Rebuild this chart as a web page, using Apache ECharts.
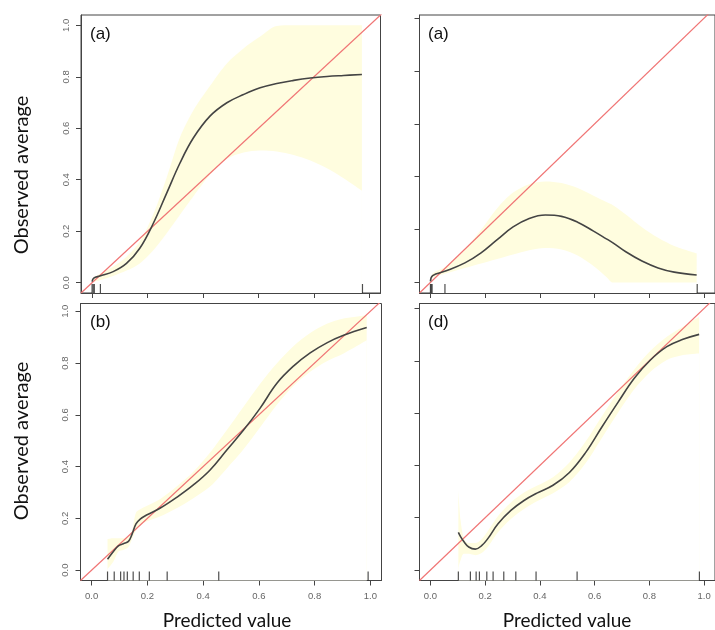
<!DOCTYPE html>
<html>
<head>
<meta charset="utf-8">
<script src="https://cdn.jsdelivr.net/npm/echarts@6/dist/echarts.min.js"></script>
<style>
  html, body { margin: 0; padding: 0; background: #fff; }
  #chart { width: 715px; height: 630px; }
</style>
</head>
<body>
<div id="chart"></div>
<script>
// tick labels
const tickValues = [0, 0.2, 0.4, 0.6, 0.8, 1.0]
const panelLabels = ['(a)', '(a)', '(b)', '(d)']

// panel 1 (top left)
const xA = [0.0, 0.006, 0.028, 0.076, 0.124, 0.172, 0.22, 0.269, 0.317, 0.365, 0.425, 0.486, 0.546, 0.606, 0.666, 0.727, 0.787, 0.847, 0.907, 0.973]
const fitA = [0.004, 0.018, 0.026, 0.043, 0.075, 0.134, 0.229, 0.348, 0.465, 0.562, 0.647, 0.699, 0.731, 0.757, 0.774, 0.786, 0.795, 0.801, 0.805, 0.809]
const lowA = [0.0, 0.004, 0.010, 0.026, 0.047, 0.075, 0.125, 0.192, 0.264, 0.335, 0.419, 0.481, 0.506, 0.514, 0.51, 0.496, 0.475, 0.445, 0.406, 0.358]
const upA = [0.008, 0.021, 0.034, 0.062, 0.101, 0.16, 0.264, 0.409, 0.565, 0.669, 0.764, 0.852, 0.91, 0.956, 0.997, 1.0, 1.0, 1.0, 1.0, 1.0]
const rugA = [0.0, 0.004, 0.008, 0.03, 0.975]

// panel 2 (top right)
const xB = [0.0, 0.008, 0.055, 0.126, 0.185, 0.244, 0.302, 0.361, 0.42, 0.479, 0.538, 0.596, 0.643, 0.667, 0.714, 0.773, 0.832, 0.891, 0.973]
const fitB = [0.004, 0.026, 0.043, 0.074, 0.112, 0.162, 0.21, 0.242, 0.255, 0.25, 0.228, 0.194, 0.165, 0.15, 0.116, 0.081, 0.055, 0.039, 0.028]
const lowB = [0.0, 0.018, 0.034, 0.055, 0.072, 0.089, 0.106, 0.122, 0.13, 0.125, 0.102, 0.062, 0.021, 0.0, 0.0, 0.0, 0.0, 0.0, 0.0]
const upB = [0.008, 0.034, 0.059, 0.124, 0.199, 0.281, 0.34, 0.372, 0.382, 0.376, 0.357, 0.328, 0.304, 0.292, 0.257, 0.209, 0.169, 0.138, 0.11]
const rugB = [0.0, 0.003, 0.006, 0.053, 0.975]

// panel 3 (bottom left)
const xC = [0.057, 0.078, 0.096, 0.114, 0.132, 0.144, 0.159, 0.174, 0.197, 0.245, 0.305, 0.365, 0.425, 0.485, 0.545, 0.604, 0.664, 0.724, 0.784, 0.844, 0.904, 0.987]
const fitC = [0.042, 0.072, 0.094, 0.102, 0.111, 0.136, 0.179, 0.197, 0.213, 0.239, 0.281, 0.329, 0.387, 0.464, 0.541, 0.625, 0.721, 0.788, 0.839, 0.878, 0.907, 0.937]
const lowC = [0.004, 0.033, 0.072, 0.078, 0.089, 0.117, 0.153, 0.175, 0.188, 0.207, 0.239, 0.278, 0.323, 0.393, 0.467, 0.551, 0.638, 0.711, 0.766, 0.807, 0.837, 0.888]
const upC = [0.12, 0.123, 0.123, 0.123, 0.13, 0.149, 0.222, 0.235, 0.248, 0.274, 0.323, 0.38, 0.454, 0.541, 0.631, 0.719, 0.798, 0.865, 0.916, 0.952, 0.972, 0.985]
const rugC = [0.057, 0.081, 0.104, 0.116, 0.128, 0.149, 0.171, 0.207, 0.271, 0.456, 0.992]

// panel 4 (bottom right)
const xD = [0.102, 0.110, 0.122, 0.14, 0.164, 0.187, 0.211, 0.247, 0.294, 0.342, 0.389, 0.448, 0.508, 0.567, 0.626, 0.686, 0.745, 0.804, 0.864, 0.923, 0.982]
const fitD = [0.144, 0.128, 0.109, 0.088, 0.08, 0.093, 0.122, 0.177, 0.228, 0.266, 0.294, 0.324, 0.373, 0.449, 0.546, 0.642, 0.733, 0.803, 0.854, 0.882, 0.901]
const lowD = [0.008, 0.037, 0.062, 0.062, 0.057, 0.065, 0.09, 0.144, 0.195, 0.233, 0.263, 0.294, 0.337, 0.408, 0.504, 0.602, 0.691, 0.758, 0.803, 0.822, 0.828]
const upD = [0.307, 0.192, 0.122, 0.103, 0.103, 0.118, 0.151, 0.207, 0.258, 0.296, 0.322, 0.355, 0.411, 0.491, 0.587, 0.682, 0.767, 0.838, 0.892, 0.93, 0.968]
const rugD = [0.102, 0.146, 0.167, 0.179, 0.206, 0.229, 0.268, 0.312, 0.386, 0.536, 0.983]

const panels = [
  { x: xA, fit: fitA, low: lowA, up: upA, rug: rugA, grid: { left: 81, top: 15, width: 299.5, height: 278 }, yMax: 1.04, showX: false, showY: true },
  { x: xB, fit: fitB, low: lowB, up: upB, rug: rugB, grid: { left: 419.5, top: 15, width: 306, height: 278 }, yMax: 1.012, showX: false, showY: false },
  { x: xC, fit: fitC, low: lowC, up: upC, rug: rugC, grid: { left: 80.5, top: 303.5, width: 301, height: 277 }, yMax: 1.03, showX: true, showY: true },
  { x: xD, fit: fitD, low: lowD, up: upD, rug: rugD, grid: { left: 419.5, top: 303.5, width: 303.5, height: 277 }, yMax: 1.019, showX: true, showY: false }
]

const chart = echarts.init(document.getElementById('chart'))

const grids = []
const xAxes = []
const yAxes = []
const series = []

const tickStyle = { show: true, inside: false, length: 5, customValues: tickValues, lineStyle: { color: '#444', width: 1 } }

panels.forEach((p, i) => {
  grids.push(Object.assign({ show: true, borderColor: '#444', borderWidth: 1, backgroundColor: '#fff' }, p.grid))

  xAxes.push({
    type: 'value', gridIndex: i, min: -0.04, max: 1.04,
    axisLine: { show: true, onZero: false, lineStyle: { color: '#444' } },
    axisTick: tickStyle,
    axisLabel: {
      show: p.showX, customValues: tickValues, margin: 11,
      fontFamily: 'Liberation Sans', fontSize: 9.5, color: '#666',
      formatter: v => v.toFixed(1)
    },
    splitLine: { show: false }
  })

  yAxes.push({
    type: 'value', gridIndex: i, min: -0.04, max: p.yMax,
    axisLine: { show: true, onZero: false, lineStyle: { color: '#444' } },
    axisTick: tickStyle,
    axisLabel: {
      show: p.showY, customValues: tickValues, margin: 10, rotate: 90,
      fontFamily: 'Liberation Sans', fontSize: 9.5, color: '#666',
      formatter: v => v.toFixed(1)
    },
    splitLine: { show: false }
  })

  // confidence band: yellow area under the upper edge, white area under the lower edge
  series.push({
    type: 'line', xAxisIndex: i, yAxisIndex: i, z: 1,
    data: p.x.map((x, k) => [x, p.up[k]]),
    symbol: 'none', smooth: 0.3, lineStyle: { width: 0, opacity: 0 },
    areaStyle: { color: '#fffddf', opacity: 1, origin: 'start' }, silent: true
  })
  series.push({
    type: 'line', xAxisIndex: i, yAxisIndex: i, z: 1,
    data: p.x.map((x, k) => [x, p.low[k]]),
    symbol: 'none', smooth: 0.3, lineStyle: { width: 0, opacity: 0 },
    areaStyle: { color: '#ffffff', opacity: 1, origin: 'start' }, silent: true
  })

  // rug
  series.push({
    type: 'scatter', xAxisIndex: i, yAxisIndex: i, z: 10,
    data: p.rug.map(x => [x, -0.04]),
    symbol: 'rect', symbolSize: [1.2, 9], symbolOffset: [0, -4.5],
    itemStyle: { color: '#222' }, silent: true
  })

  // y = x reference
  series.push({
    type: 'line', xAxisIndex: i, yAxisIndex: i, z: 5,
    data: [[-0.04, -0.04], [1.1, 1.1]],
    symbol: 'none', lineStyle: { color: '#f07575', width: 1.2 }, silent: true
  })

  // smoothed fit
  series.push({
    type: 'line', xAxisIndex: i, yAxisIndex: i, z: 6,
    data: p.x.map((x, k) => [x, p.fit[k]]),
    symbol: 'none', smooth: 0.4,
    lineStyle: { color: '#444', width: 1.6 }, silent: true
  })
})

const labelPos = [[90, 26], [428, 26], [90, 314], [428, 314]]

const option = {
  animation: false,
  grid: grids,
  xAxis: xAxes,
  yAxis: yAxes,
  series: series,
  title: panelLabels.map((t, i) => ({
    text: t, left: labelPos[i][0], top: labelPos[i][1], padding: 0,
    textStyle: { fontFamily: 'Liberation Sans', fontSize: 17, fontWeight: 'normal', color: '#111' }
  })),
  graphic: [
    { type: 'text', x: 22, y: 175, rotation: Math.PI / 2,
      style: { text: 'Observed average', font: '20px Lato', fill: '#111', textAlign: 'center', textVerticalAlign: 'middle' } },
    { type: 'text', x: 22, y: 441, rotation: Math.PI / 2,
      style: { text: 'Observed average', font: '20px Lato', fill: '#111', textAlign: 'center', textVerticalAlign: 'middle' } },
    { type: 'text', x: 227, y: 621,
      style: { text: 'Predicted value', font: '19px Lato', fill: '#111', textAlign: 'center', textVerticalAlign: 'middle' } },
    { type: 'text', x: 567, y: 621,
      style: { text: 'Predicted value', font: '19px Lato', fill: '#111', textAlign: 'center', textVerticalAlign: 'middle' } }
  ]
}

chart.setOption(option)

window.addEventListener('resize', () => {
  chart.resize()
})
</script>
</body>
</html>
